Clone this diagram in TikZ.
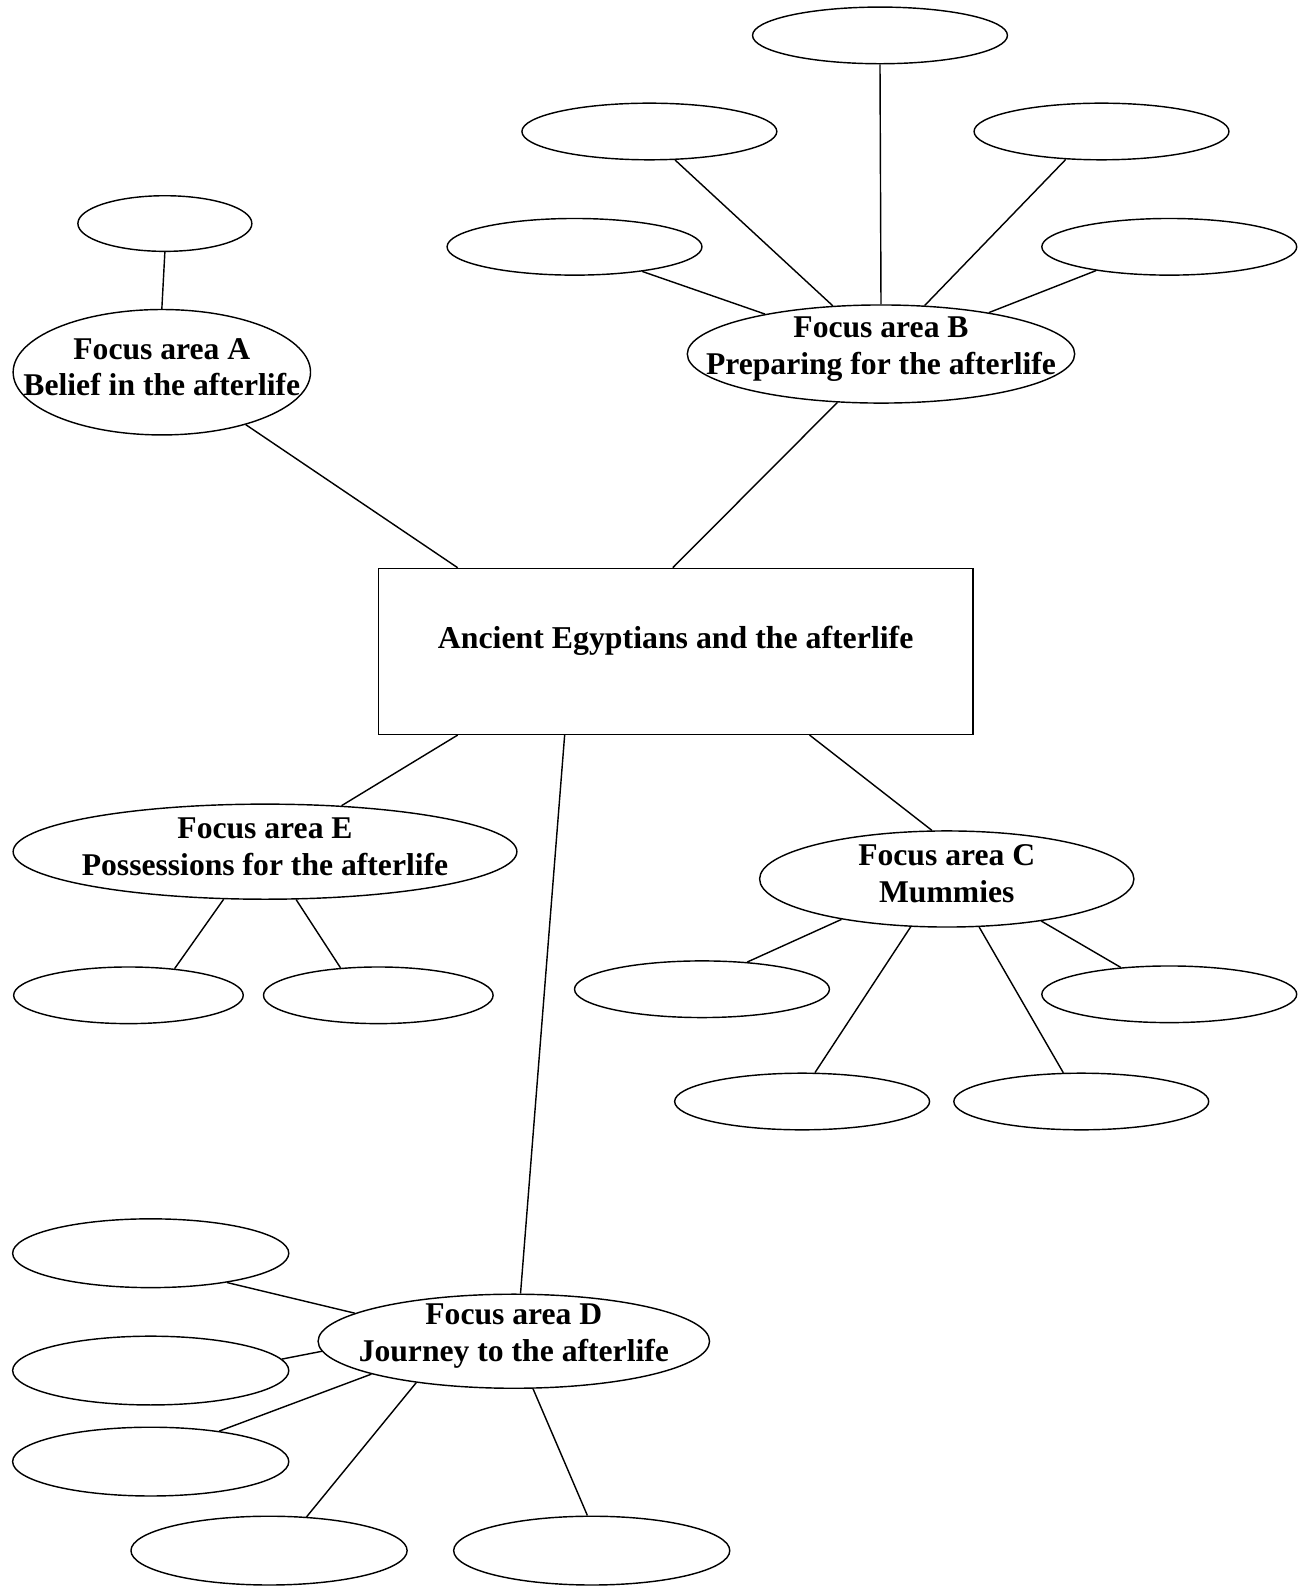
\documentclass[tikz,border=0pt]{standalone}
\usepackage{fontspec}
\setmainfont{Liberation Serif}
\usetikzlibrary{shapes.geometric}

\begin{document}
\begin{tikzpicture}[x=0.2mm, y=-0.2mm,
  topic/.style={rectangle, draw, line width=0.8pt, minimum width=117.6mm, minimum height=32.8mm, text depth=5.4mm, font=\fontsize{17.9}{20.5}\selectfont\bfseries},
  focus/.style={ellipse, draw, line width=0.8pt, inner sep=0pt},
  caption/.style={align=center, yshift=1mm, font=\fontsize{17.8}{20.5}\selectfont\bfseries},
  blank/.style={ellipse, draw, line width=0.8pt, inner sep=0pt, minimum width=50.4mm, minimum height=11.2mm},
  link/.style={draw, line width=0.8pt}
]
  \useasboundingbox (0,0) rectangle (1296,1568);

  % Centre
  \node[topic] (main) at (668,644) {Ancient Egyptians and the afterlife};

  % Focus areas
  \node[focus, minimum width=58.8mm, minimum height=24.8mm, label={[caption]center:{Focus area A\\Belief in the afterlife}}] (focA) at (160,368) {};
  \node[focus, minimum width=76.6mm, minimum height=19.4mm, label={[caption]center:{Focus area B\\Preparing for the afterlife}}] (focB) at (871,350) {};
  \node[focus, minimum width=74mm, minimum height=19mm, label={[caption]center:{Focus area C\\Mummies}}] (focC) at (936,869) {};
  \node[focus, minimum width=77.4mm, minimum height=18.6mm, label={[caption]center:{Focus area D\\Journey to the afterlife}}] (focD) at (508,1326) {};
  \node[focus, minimum width=99.6mm, minimum height=18.8mm, label={[caption]center:{Focus area E\\Possessions for the afterlife}}] (focE) at (262,842) {};

  % Empty ellipses
  \node[blank, minimum width=34.4mm, minimum height=11mm] (a1) at (163,221) {};

  \node[blank] (b1) at (870,35) {};
  \node[blank] (b2) at (642,130) {};
  \node[blank] (b3) at (1089,130) {};
  \node[blank] (b4) at (568,244) {};
  \node[blank] (b5) at (1156,244) {};

  \node[blank] (c1) at (694,978) {};
  \node[blank] (c2) at (1156,983) {};
  \node[blank] (c3) at (793,1089) {};
  \node[blank] (c4) at (1069,1089) {};

  \node[blank, minimum width=54.6mm, minimum height=13.6mm] (d1) at (149,1239) {};
  \node[blank, minimum width=54.6mm, minimum height=13.6mm] (d2) at (149,1355) {};
  \node[blank, minimum width=54.6mm, minimum height=13.6mm] (d3) at (149,1445) {};
  \node[blank, minimum width=54.6mm, minimum height=13.6mm] (d4) at (266,1533) {};
  \node[blank, minimum width=54.6mm, minimum height=13.6mm] (d5) at (585,1533) {};

  \node[blank, minimum width=45.4mm] (e1) at (127,984) {};
  \node[blank, minimum width=45.4mm] (e2) at (374,984) {};

  % Centre to focus areas
  \draw[link] (main.159.4) -- (focA.-32.2);
  \draw[link] (main.92.1) -- (focB.228.7);
  \draw[link] (main.-32.4) -- (focC.107.7);
  \draw[link] (main.217.2) -- (focD.82.6);
  \draw[link] (main.201) -- (focE.31.7);

  % Focus areas to empty ellipses
  \draw[link] (a1.270) -- (focA.90);

  \draw[link] (b1.270) -- (focB.90);
  \draw[link] (b2.-48.4) -- (focB.135);
  \draw[link] (b3.218.5) -- (focB.48.9);
  \draw[link] (b4.-20.6) -- (focB.161.7);
  \draw[link] (b5.198.2) -- (focB.21.5);

  \draw[link] (focC.201.6) -- (c1.31.2);
  \draw[link] (focC.-24.5) -- (c2.151);
  \draw[link] (focC.233) -- (c3.66.8);
  \draw[link] (focC.-56) -- (c4.122.7);

  \draw[link] (d1.-21.4) -- (focD.170.5);
  \draw[link] (d2.5.3) -- (focD.183.7);
  \draw[link] (d3.24.8) -- (focD.193.3);
  \draw[link] (d4.42.4) -- (focD.203.8);
  \draw[link] (d5.97) -- (focD.-68);

  \draw[link] (focE.229.6) -- (e1.30.4);
  \draw[link] (focE.-57.4) -- (e2.144.6);
\end{tikzpicture}
\end{document}
